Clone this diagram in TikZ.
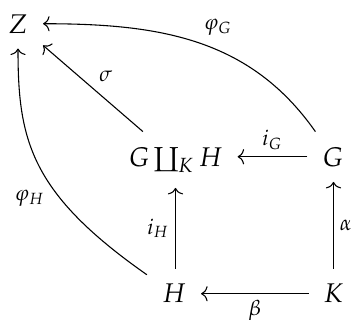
\documentclass[tikz,border=0pt]{standalone}
\usepackage{amsmath,amssymb}
\usepackage{mathpazo}
\usetikzlibrary{arrows.meta,calc}

\begin{document}
\begin{tikzpicture}[
      x=0.3704pt,y=0.3704pt,
      obj/.style={anchor=base,inner sep=5.5pt},
      lbl/.style={font=\footnotesize,inner sep=2.2pt},
      arr/.style={-{Computer Modern Rightarrow[length=2.4pt,width=5.6pt]},line width=0.4pt}
    ]
      \useasboundingbox (0,0) rectangle (352,320);
      \node[obj] (Z) at (18,287) {$Z$};
      \node[obj] (coprod) at (175.5,154) {$G\coprod_K H$};
      \node[obj] (G) at (333,154) {$G$};
      \node[obj] (H) at (174,17) {$H$};
      \node[obj] (K) at (333.5,17) {$K$};

      \draw[arr] (G.west) -- (G.west -| coprod.east) node[lbl,midway,above] {$i_G$};
      \draw[arr] (K) -- (H) node[lbl,midway,below] {$\beta$};
      \draw[arr] (coprod.south |- H.north) -- (coprod.south) node[lbl,midway,left] {$i_H$};
      \draw[arr] (K.north) -- (K.north |- G.south) node[lbl,midway,right] {$\alpha$};
      \draw[arr] (coprod) -- (Z) node[lbl,midway,above right] {$\sigma$};
      \draw[arr] (G) to[out=125,in=0] node[lbl,pos=0.5,above right] {$\varphi_G$} (Z);
      \draw[arr] (H) to[out=145,in=-90,out looseness=1.4,in looseness=0.9] node[lbl,pos=0.34,left,xshift=-3.5pt] {$\varphi_H$} (Z);
    \end{tikzpicture}
\end{document}
